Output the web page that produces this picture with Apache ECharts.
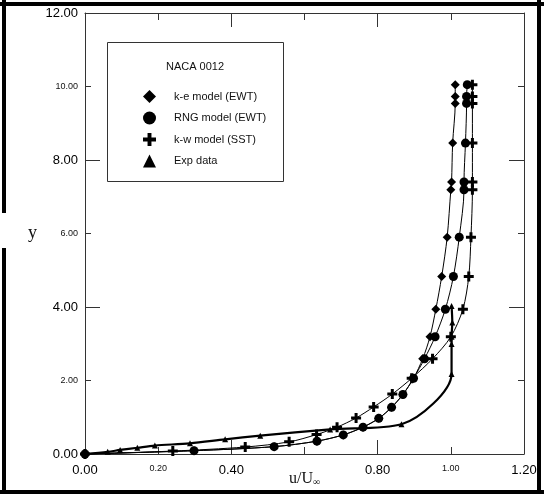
<!DOCTYPE html>
<html>
<head>
<meta charset="utf-8">
<script src="https://cdn.jsdelivr.net/npm/echarts@6.0.0/dist/echarts.min.js"></script>
<style>
html, body { margin: 0; padding: 0; background: #fff; }
#chart { width: 544px; height: 494px; }
</style>
</head>
<body>
<div id="chart"></div>
<script>
// velocity profiles, NACA 0012
var keX = [1.012, 1.012, 1.012, 1.005, 1.002, 1.000, 0.990, 0.975, 0.959, 0.943, 0.923, 0.898, 0.869, 0.838, 0.803, 0.760, 0.706, 0.634, 0.517, 0.298, 0];
var keY = [10.05, 9.73, 9.54, 8.46, 7.40, 7.19, 5.90, 4.83, 3.94, 3.19, 2.59, 2.06, 1.62, 1.27, 0.97, 0.73, 0.52, 0.35, 0.20, 0.09, 0];

var rngX = [1.045, 1.043, 1.043, 1.040, 1.036, 1.036, 1.023, 1.007, 0.985, 0.957, 0.928, 0.898, 0.869, 0.838, 0.803, 0.760, 0.706, 0.634, 0.517, 0.298, 0];
var rngY = [10.05, 9.73, 9.54, 8.46, 7.40, 7.19, 5.90, 4.83, 3.94, 3.19, 2.59, 2.06, 1.62, 1.27, 0.97, 0.73, 0.52, 0.35, 0.20, 0.09, 0];

var sstX = [1.059, 1.059, 1.059, 1.059, 1.059, 1.059, 1.055, 1.049, 1.033, 1.000, 0.950, 0.893, 0.840, 0.789, 0.741, 0.689, 0.633, 0.558, 0.438, 0.240, 0];
var sstY = [10.05, 9.73, 9.54, 8.46, 7.40, 7.19, 5.90, 4.83, 3.94, 3.19, 2.59, 2.06, 1.63, 1.28, 0.98, 0.73, 0.53, 0.33, 0.19, 0.08, 0];

var expX = [1.002, 1.004, 1.002, 1.002, 1.002, 0.865, 0.670, 0.479, 0.383, 0.287, 0.191, 0.143, 0.096, 0.062, 0];
var expY = [4.03, 3.58, 3.19, 2.99, 2.18, 0.81, 0.67, 0.50, 0.40, 0.29, 0.23, 0.17, 0.11, 0.06, 0];

var seriesNames = ['k-e model (EWT)', 'RNG model (EWT)', 'k-w model (SST)', 'Exp data'];

// tick labels: the figure mixes large and small label sizes
var bigXLabels = ['0.00', '0.40', '0.80', '1.20'];
var smallXLabels = ['0.20', '1.00'];
var bigYLabels = ['0.00', '4.00', '8.00', '12.00'];
var smallYLabels = ['2.00', '6.00', '10.00'];

function pairs(xs, ys) {
    return xs.map(function (x, i) { return [x, ys[i]]; });
}
function pick(list) {
    return function (v) {
        var s = v.toFixed(2);
        return list.indexOf(s) >= 0 ? s : '';
    };
}

var plus = 'path://M3.5,0h3v3.5h3.5v3h-3.5v3.5h-3v-3.5h-3.5v-3h3.5z';
var axisCol = '#333';
var sans = '"Liberation Sans", Arial, sans-serif';
var serif = '"Liberation Serif", "Times New Roman", serif';

function frameAxis(pos, min, max, interval, longTick, shortTick) {
    return {
        type: 'value', position: pos, min: min, max: max, interval: interval,
        axisLine: {show: true, onZero: false, lineStyle: {color: axisCol, width: 1}},
        axisTick: {show: true, inside: true, length: longTick, lineStyle: {color: axisCol}},
        minorTick: {show: true, splitNumber: 2, length: shortTick, lineStyle: {color: axisCol}},
        axisLabel: {show: false},
        splitLine: {show: false}
    };
}

var chart = echarts.init(document.getElementById('chart'));
var option = {
    animation: false,
    backgroundColor: '#fff',
    grid: {left: 85, right: 20, top: 13, bottom: 40, containLabel: false, outerBoundsMode: 'none'},
    legend: {
        orient: 'vertical',
        left: 138,
        top: 85,
        itemWidth: 13,
        itemHeight: 13,
        itemGap: 8.5,
        selectedMode: false,
        textStyle: {fontFamily: sans, fontSize: 11, color: '#111', padding: [0, 0, 0, 13]},
        data: [
            {name: seriesNames[0], icon: 'diamond'},
            {name: seriesNames[1], icon: 'circle'},
            {name: seriesNames[2], icon: plus},
            {name: seriesNames[3], icon: 'triangle'}
        ]
    },
    xAxis: [
        Object.assign(frameAxis('bottom', 0, 1.2, 0.4, 14, 7), {
            axisLabel: {show: true, margin: 10, fontFamily: sans, fontSize: 13, color: '#000', formatter: pick(bigXLabels)},
            name: '{u|u/U}{s|∞}',
            nameLocation: 'middle',
            nameGap: 17,
            nameMoveOverlap: false,
            nameTextStyle: {
                rich: {
                    u: {fontFamily: serif, fontSize: 16, color: '#111'},
                    s: {fontFamily: serif, fontSize: 10, color: '#111', verticalAlign: 'bottom'}
                }
            }
        }),
        frameAxis('top', 0, 1.2, 0.4, 14, 7),
        {
            type: 'value', position: 'bottom', min: 0, max: 1.2, interval: 0.2,
            axisLine: {show: false, onZero: false}, axisTick: {show: false}, splitLine: {show: false},
            axisLabel: {show: true, margin: 10, fontFamily: sans, fontSize: 9, color: '#111', formatter: pick(smallXLabels)}
        }
    ],
    yAxis: [
        Object.assign(frameAxis('left', 0, 12, 4, 15, 6), {
            axisLabel: {show: true, margin: 7, fontFamily: sans, fontSize: 13, color: '#000', formatter: pick(bigYLabels)},
            name: 'y',
            nameLocation: 'middle',
            nameRotate: 0,
            nameGap: 48,
            nameMoveOverlap: false,
            nameTextStyle: {fontFamily: serif, fontSize: 18, color: '#111'}
        }),
        frameAxis('right', 0, 12, 4, 15, 6),
        {
            type: 'value', position: 'left', min: 0, max: 12, interval: 2,
            axisLine: {show: false, onZero: false}, axisTick: {show: false}, splitLine: {show: false},
            axisLabel: {show: true, margin: 7, fontFamily: sans, fontSize: 9, color: '#111', formatter: pick(smallYLabels)}
        }
    ],
    series: [
        {
            name: seriesNames[0], type: 'line', data: pairs(keX, keY),
            symbol: 'diamond', symbolSize: 9, smooth: 0.3,
            lineStyle: {color: '#000', width: 1}, itemStyle: {color: '#000'}, z: 3
        },
        {
            name: seriesNames[1], type: 'line', data: pairs(rngX, rngY),
            symbol: 'circle', symbolSize: 9, smooth: 0.3,
            lineStyle: {color: '#000', width: 1}, itemStyle: {color: '#000'}, z: 3
        },
        {
            name: seriesNames[2], type: 'line', data: pairs(sstX, sstY),
            symbol: plus, symbolSize: 10, smooth: 0.3,
            lineStyle: {color: '#000', width: 1}, itemStyle: {color: '#000'}, z: 3
        },
        {
            name: seriesNames[3], type: 'line', data: pairs(expX, expY),
            symbol: 'triangle', symbolSize: 6, smooth: 0.3,
            lineStyle: {color: '#000', width: 2.2}, itemStyle: {color: '#000'}, z: 4
        }
    ],
    graphic: [
        // scanned page border
        {type: 'line', shape: {x1: 0, y1: 4, x2: 544, y2: 4}, style: {stroke: '#000', lineWidth: 4}},
        {type: 'line', shape: {x1: 4, y1: 0, x2: 4, y2: 213}, style: {stroke: '#000', lineWidth: 4}},
        {type: 'line', shape: {x1: 4, y1: 248, x2: 4, y2: 494}, style: {stroke: '#000', lineWidth: 4}},
        {type: 'line', shape: {x1: 539, y1: 0, x2: 539, y2: 494}, style: {stroke: '#000', lineWidth: 4}},
        {type: 'line', shape: {x1: 0, y1: 492, x2: 544, y2: 492}, style: {stroke: '#000', lineWidth: 4}},
        // legend frame and title
        {type: 'rect', shape: {x: 107.5, y: 42.5, width: 176, height: 139}, style: {fill: 'none', stroke: '#333', lineWidth: 1}},
        {type: 'text', style: {text: 'NACA 0012', x: 195, y: 67, align: 'center', verticalAlign: 'middle', font: '11px ' + sans, fill: '#111'}}
    ]
};
chart.setOption(option);
</script>
</body>
</html>
